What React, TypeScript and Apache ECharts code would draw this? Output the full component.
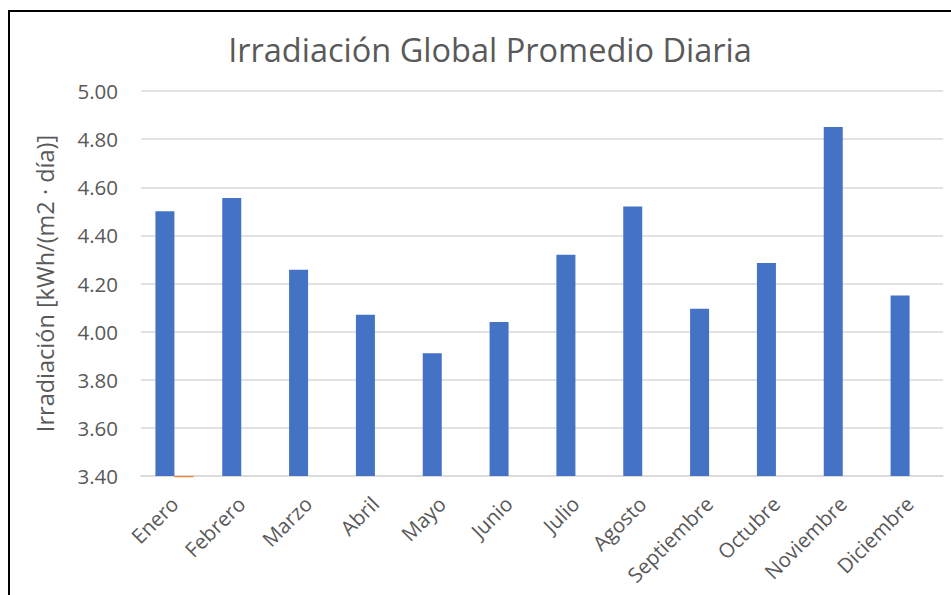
import React, { useEffect, useRef } from "react";
import * as echarts from "echarts";

const categories = ["Enero", "Febrero", "Marzo", "Abril", "Mayo", "Junio", "Julio", "Agosto", "Septiembre", "Octubre", "Noviembre", "Diciembre"];
const irradiacion = [4.5, 4.555, 4.257, 4.07, 3.91, 4.04, 4.32, 4.52, 4.095, 4.285, 4.85, 4.15];
const serie2 = [3.395, null, null, null, null, null, null, null, null, null, null, null];
const yTicks = { min: 3.4, max: 5.0, interval: 0.2 };

export default function App() {
  const ref = useRef<HTMLDivElement>(null);
  useEffect(() => {
    document.body.style.margin = "0";
    const chart = echarts.init(ref.current!, undefined, { renderer: "svg" });
    const font = "'Open Sans', sans-serif";
    chart.setOption({
      animation: false,
      backgroundColor: "#ffffff",
      title: {
        text: "Irradiación Global Promedio Diaria",
        left: 485,
        top: 28,
        textAlign: "center",
        textStyle: { fontFamily: font, fontSize: 32.5, fontWeight: "normal", color: "#595959" },
      },
      grid: { left: 141, right: 8, top: 91, bottom: 119, containLabel: false },
      xAxis: {
        type: "category",
        data: categories,
        axisLine: { lineStyle: { color: "#D9D9D9", width: 1.5 } },
        axisTick: { show: false },
        axisLabel: { rotate: 45, fontFamily: font, fontSize: 20.5, color: "#595959", margin: 24, interval: 0 },
      },
      yAxis: {
        type: "value",
        min: yTicks.min,
        max: yTicks.max,
        interval: yTicks.interval,
        startValue: yTicks.min,
        name: "Irradiación [kWh/(m2 · día)]",
        nameLocation: "middle",
        nameGap: 84,
        nameTextStyle: { fontFamily: font, fontSize: 23.5, color: "#595959" },
        axisLine: { show: false },
        axisTick: { show: false },
        axisLabel: { fontFamily: font, fontSize: 20.5, color: "#595959", margin: 23, formatter: (v: number) => v.toFixed(2) },
        splitLine: { lineStyle: { color: "#D9D9D9", width: 1.5 } },
      },
      series: [
        {
          type: "bar",
          name: "Irradiación",
          data: irradiacion,
          barWidth: 19,
          barGap: "0%",
          itemStyle: { color: "#4472C4" },
        },
        {
          type: "bar",
          name: "Serie2",
          data: serie2,
          barWidth: 19,
          barGap: "0%",
          clip: false,
          itemStyle: { color: "#ED7D31" },
        },
      ],
      graphic: [
        {
          type: "rect",
          shape: { x: 9, y: 11, width: 980, height: 620 },
          style: { fill: "none", stroke: "#000000", lineWidth: 2 },
          silent: true,
        },
      ],
    });
    return () => chart.dispose();
  }, []);
  return <div ref={ref} style={{ position: "fixed", left: 0, top: 0, width: 951, height: 595 }} />;
}
